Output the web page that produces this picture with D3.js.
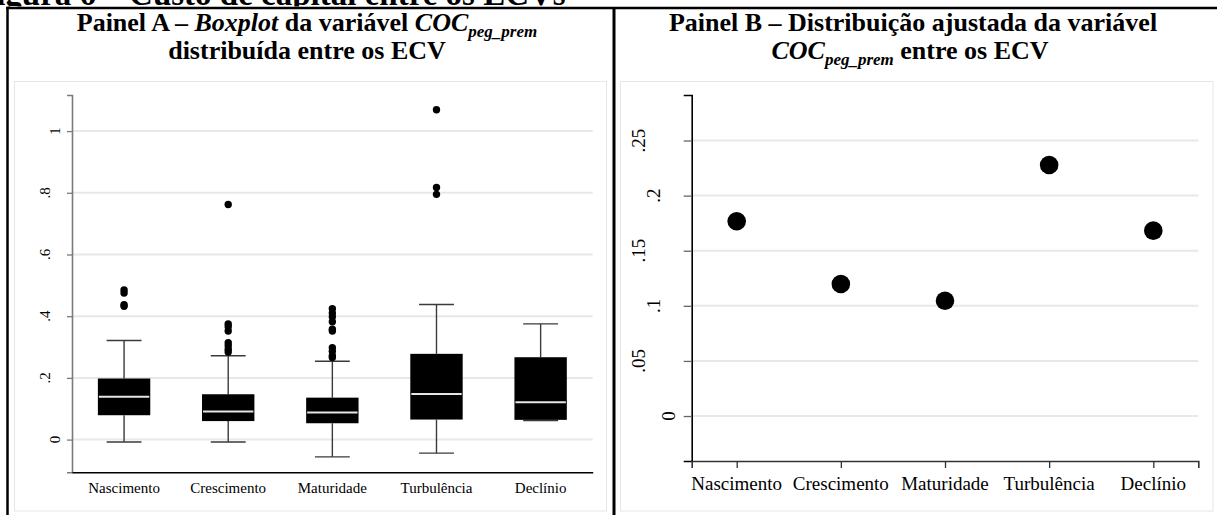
<!DOCTYPE html>
<html>
<head>
<meta charset="utf-8">
<script src="https://cdn.jsdelivr.net/npm/d3@7"></script>
<style>
  body { margin: 0; background: #fff; }
  svg { display: block; font-family: "Liberation Serif", "Times New Roman", serif; }
</style>
</head>
<body>
<div id="chart"></div>
<script>
// categories (ECV stages)
const categories = ["Nascimento", "Crescimento", "Maturidade", "Turbulência", "Declínio"];

// Panel A - boxplot summary
const whiskerLow = [-0.008, -0.008, -0.056, -0.044, 0.062];
const q1 = [0.079, 0.060, 0.053, 0.065, 0.064];
const median = [0.139, 0.091, 0.088, 0.148, 0.121];
const q3 = [0.198, 0.147, 0.136, 0.278, 0.267];
const whiskerHigh = [0.321, 0.272, 0.254, 0.438, 0.375];
const outliers = [
    [0.485, 0.475, 0.437, 0.432],
    [0.762, 0.375, 0.366, 0.352, 0.314, 0.304, 0.293, 0.284],
    [0.424, 0.41, 0.398, 0.382, 0.358, 0.352, 0.298, 0.286, 0.272, 0.266],
    [1.069, 0.817, 0.795],
    []
];
const ticksA = [0, 0.2, 0.4, 0.6, 0.8, 1];
const tickLabelsA = ["0", ".2", ".4", ".6", ".8", "1"];

// Panel B - adjusted values
const adjusted = [0.1767, 0.1198, 0.1046, 0.2278, 0.1682];
const ticksB = [0, 0.05, 0.1, 0.15, 0.2, 0.25];
const tickLabelsB = ["0", ".05", ".1", ".15", ".2", ".25"];

const W = 1217, H = 515;
const svg = d3.select("#chart").append("svg")
    .attr("width", W)
    .attr("height", H);

// figure caption, cut off at the top like in the source
svg.append("text")
    .attr("x", -24)
    .attr("y", 5)
    .attr("font-size", 33)
    .attr("font-weight", "bold")
    .text("Figura 6 – Custo de capital entre os ECVs");

// graph regions (light grey borders)
svg.append("rect").attr("x", 14.5).attr("y", 81.5).attr("width", 592).attr("height", 429.5)
    .attr("fill", "none").attr("stroke", "#e6e6e6");
svg.append("rect").attr("x", 620.5).attr("y", 81.5).attr("width", 592.5).attr("height", 429.5)
    .attr("fill", "none").attr("stroke", "#e6e6e6");

// table frame
svg.append("rect").attr("x", 0).attr("y", 6.5).attr("width", W).attr("height", 70).attr("fill", "#fff");
svg.append("line").attr("x1", 6).attr("x2", W).attr("y1", 8).attr("y2", 8)
    .attr("stroke", "#000").attr("stroke-width", 2.5);
svg.append("line").attr("x1", 7.5).attr("x2", 7.5).attr("y1", 7).attr("y2", H)
    .attr("stroke", "#000").attr("stroke-width", 2.5);
svg.append("line").attr("x1", 614).attr("x2", 614).attr("y1", 7).attr("y2", H)
    .attr("stroke", "#000").attr("stroke-width", 3);

// titles
function title(x, y, parts) {
    const t = svg.append("text")
        .attr("x", x).attr("y", y)
        .attr("text-anchor", "middle")
        .attr("font-size", 26)
        .attr("font-weight", "bold");
    parts.forEach(p => {
        const s = t.append("tspan").text(p.t);
        if (p.i) s.attr("font-style", "italic");
        if (p.sub) s.attr("font-size", 17).attr("dy", 6);
        if (p.back) s.attr("dy", -6);
    });
}
title(307, 31, [
    { t: "Painel A – " }, { t: "Boxplot", i: true }, { t: " da variável " },
    { t: "COC", i: true }, { t: "peg_prem", i: true, sub: true }
]);
title(307, 59, [{ t: "distribuída entre os ECV" }]);
title(913, 31, [{ t: "Painel B – Distribuição ajustada da variável" }]);
title(910, 59, [
    { t: "COC", i: true }, { t: "peg_prem", i: true, sub: true }, { t: " entre os ECV", back: true }
]);

// ---------- Panel A : boxplot ----------
const xA = d3.scaleBand().domain(categories).range([72, 592.7]);
const yA = d3.scaleLinear().domain([-0.106, 1.117]).range([472.3, 95]);
const bw = xA.bandwidth();

const gA = svg.append("g");

gA.selectAll("line.grid").data(ticksA).join("line")
    .attr("class", "grid")
    .attr("x1", 72).attr("x2", 592.7)
    .attr("y1", d => yA(d)).attr("y2", d => yA(d))
    .attr("stroke", "#e8e8e8").attr("stroke-width", 2);

const axisA = gA.append("g")
    .attr("transform", "translate(72,0)")
    .call(d3.axisLeft(yA).tickValues(ticksA).tickSize(5).tickFormat(""));
axisA.select(".domain").attr("stroke", "#7a7a7a").attr("stroke-width", 1.6);
axisA.selectAll(".tick line").attr("stroke", "#7a7a7a").attr("stroke-width", 1.3);

gA.selectAll("text.ylab").data(ticksA).join("text")
    .attr("class", "ylab")
    .attr("transform", (d, i) => `translate(${60 - 10 * (tickLabelsA[i].length - 1)},${yA(d)}) rotate(-90)`)
    .attr("text-anchor", "middle")
    .attr("font-size", 15)
    .text((d, i) => tickLabelsA[i]);

const xAxisA = gA.append("g")
    .attr("transform", "translate(0,472.3)")
    .call(d3.axisBottom(xA).tickSize(0).tickPadding(0).tickFormat(""));
xAxisA.select(".domain").attr("stroke", "#000").attr("stroke-width", 1.6);

gA.selectAll("text.xlab").data(categories).join("text")
    .attr("class", "xlab")
    .attr("x", d => xA(d) + bw / 2)
    .attr("y", 492.5)
    .attr("text-anchor", "middle")
    .attr("font-size", 15)
    .text(d => d);

const boxes = gA.selectAll("g.box").data(categories).join("g")
    .attr("class", "box")
    .attr("transform", d => `translate(${xA(d) + bw / 2},0)`);

const capW = bw * 0.335, boxW = bw * 0.503;
boxes.append("line")
    .attr("y1", (d, i) => yA(whiskerHigh[i])).attr("y2", (d, i) => yA(q3[i]))
    .attr("stroke", "#3a3a3a").attr("stroke-width", 1.4);
boxes.append("line")
    .attr("y1", (d, i) => yA(q1[i])).attr("y2", (d, i) => yA(whiskerLow[i]))
    .attr("stroke", "#3a3a3a").attr("stroke-width", 1.4);
boxes.append("line")
    .attr("x1", -capW / 2).attr("x2", capW / 2)
    .attr("y1", (d, i) => yA(whiskerHigh[i])).attr("y2", (d, i) => yA(whiskerHigh[i]))
    .attr("stroke", "#3a3a3a").attr("stroke-width", 1.4);
boxes.append("line")
    .attr("x1", -capW / 2).attr("x2", capW / 2)
    .attr("y1", (d, i) => yA(whiskerLow[i])).attr("y2", (d, i) => yA(whiskerLow[i]))
    .attr("stroke", "#3a3a3a").attr("stroke-width", 1.4);
boxes.append("rect")
    .attr("x", -boxW / 2).attr("width", boxW)
    .attr("y", (d, i) => yA(q3[i]))
    .attr("height", (d, i) => yA(q1[i]) - yA(q3[i]))
    .attr("fill", "#000");
boxes.append("line")
    .attr("x1", -boxW / 2 + 1).attr("x2", boxW / 2 - 1)
    .attr("y1", (d, i) => yA(median[i])).attr("y2", (d, i) => yA(median[i]))
    .attr("stroke", "#e6e6e6").attr("stroke-width", 2);
boxes.each(function (d, i) {
    d3.select(this).selectAll("circle").data(outliers[i]).join("circle")
        .attr("cx", 0)
        .attr("cy", v => yA(v))
        .attr("r", 3.7)
        .attr("fill", "#000");
});

// ---------- Panel B : adjusted dots ----------
const xB = d3.scalePoint().domain(categories).range([691.7, 1198.3]).padding(0.432);
const yB = d3.scaleLinear().domain([-0.0408, 0.2913]).range([461, 95]);

const gB = svg.append("g");

gB.selectAll("line.grid").data(ticksB).join("line")
    .attr("class", "grid")
    .attr("x1", 691.7).attr("x2", 1198.3)
    .attr("y1", d => yB(d)).attr("y2", d => yB(d))
    .attr("stroke", "#e8e8e8").attr("stroke-width", 2);

const axisB = gB.append("g")
    .attr("transform", "translate(691.7,0)")
    .call(d3.axisLeft(yB).tickValues(ticksB).tickSize(8).tickFormat(""));
axisB.select(".domain").attr("stroke", "#000").attr("stroke-width", 1.6);
axisB.selectAll(".tick line").attr("stroke", "#666").attr("stroke-width", 1.3);

gB.selectAll("text.ylab").data(ticksB).join("text")
    .attr("class", "ylab")
    .attr("transform", (d, i) => `translate(${675 - 15 * (tickLabelsB[i].length - 1)},${yB(d)}) rotate(-90)`)
    .attr("text-anchor", "middle")
    .attr("font-size", 19)
    .text((d, i) => tickLabelsB[i]);

const xAxisB = gB.append("g")
    .attr("transform", "translate(0,461)")
    .call(d3.axisBottom(xB).tickSize(7).tickFormat(""));
xAxisB.select(".domain").attr("stroke", "#333").attr("stroke-width", 1.6);
xAxisB.selectAll(".tick line").attr("stroke", "#333").attr("stroke-width", 1.3);

gB.selectAll("text.xlab").data(categories).join("text")
    .attr("class", "xlab")
    .attr("x", d => xB(d))
    .attr("y", 490)
    .attr("text-anchor", "middle")
    .attr("font-size", 19)
    .text(d => d);

gB.selectAll("circle.pt").data(categories).join("circle")
    .attr("class", "pt")
    .attr("cx", d => xB(d))
    .attr("cy", (d, i) => yB(adjusted[i]))
    .attr("r", 9.3)
    .attr("fill", "#000");
</script>
</body>
</html>
